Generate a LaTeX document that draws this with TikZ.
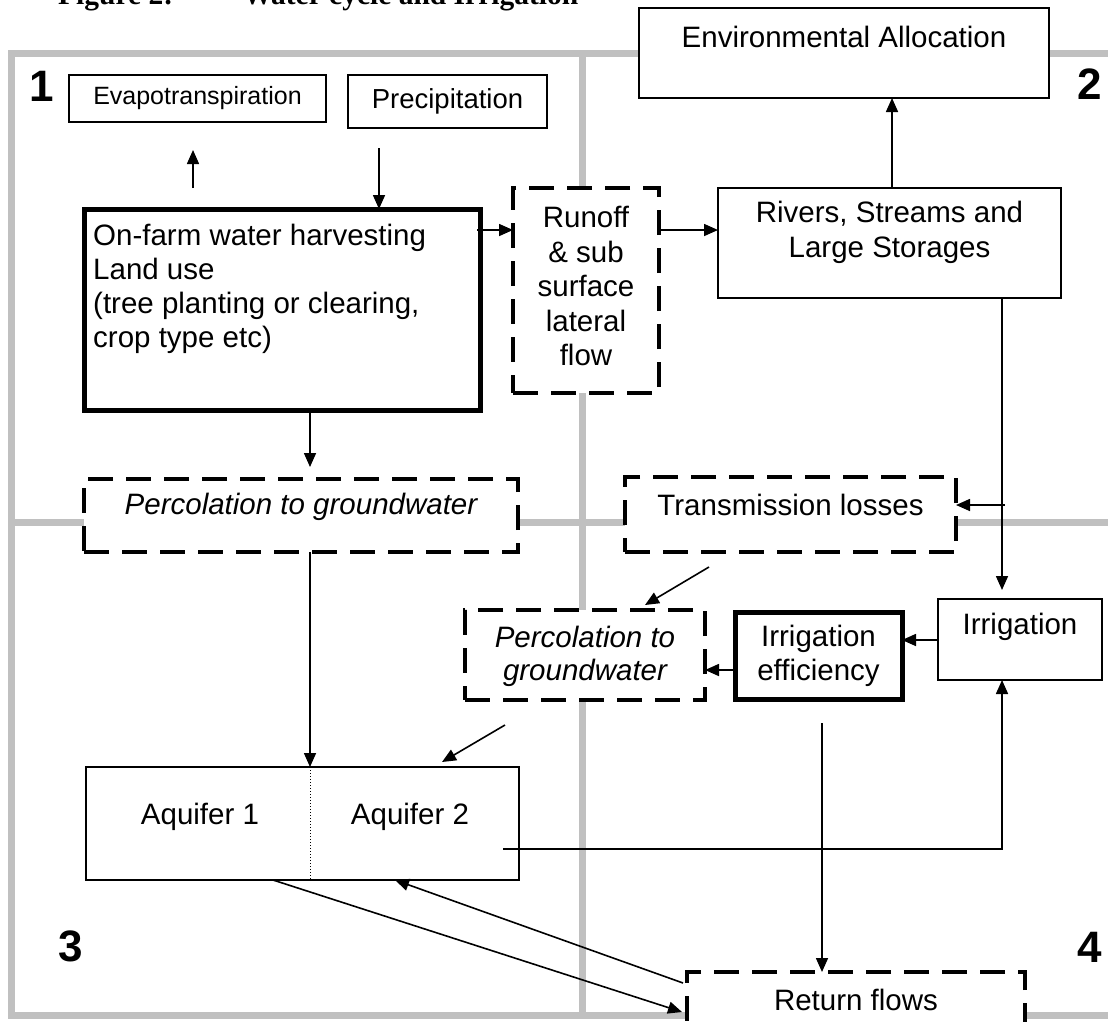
\documentclass[tikz,border=0pt]{standalone}
\usepackage{fontspec}
\setmainfont{Liberation Sans}
\newfontfamily\titlefont{Liberation Serif}
\usetikzlibrary{arrows.meta}
\definecolor{framegrey}{HTML}{C0C0C0}
\begin{document}
\begin{tikzpicture}[x=1pt,y=-1pt,
  box/.style={draw, fill=white, line width=1.8pt, inner sep=0pt, outer sep=0pt},
  thickbox/.style={draw, fill=white, line width=5pt, inner sep=0pt, outer sep=0pt},
  dbox/.style={draw, fill=white, line width=4.5pt, dash pattern=on 25pt off 13pt, inner sep=0pt, outer sep=0pt},
  txt/.style={font=\fontsize{29.5}{34.5}\selectfont, align=center, inner sep=0pt},
  itxt/.style={font=\fontsize{29.5}{33}\selectfont\itshape, align=center, inner sep=0pt},
  num/.style={font=\fontsize{44}{44}\selectfont\bfseries, inner sep=0pt},
  titletxt/.style={font=\titlefont\fontsize{29.5}{30}\bfseries\selectfont, anchor=base west, inner sep=0pt},
  framegrid/.style={draw=framegrey, line width=7pt, line join=miter},
  conn/.style={line width=1.6pt, -{Triangle[length=14pt,width=12pt]}},
]
\useasboundingbox (0,0) rectangle (1108,1021);

% title (cut at top)
\node[titletxt] (fig) at (58,4) {Figure 2:};
\node[titletxt] (figt) at (243,4) {Water cycle and Irrigation};

% grey quadrant frame
\draw[framegrid] (1115,53) -- (11,53) -- (11,1015) -- (1115,1015);
\draw[framegrid] (582,53) -- (582,1015);
\draw[framegrid] (11,522) -- (1115,522);

% quadrant numbers
\node[num] (n1) at (42,86) {1};
\node[num] (n2) at (1090,84) {2};
\node[num] (n3) at (71,946) {3};
\node[num] (n4) at (1090,947) {4};

% boxes
\node[box, minimum width=257pt, minimum height=47pt, font=\fontsize{25}{30}\selectfont] (evap) at (197.5,98.5) {Evapotranspiration};
\node[box, minimum width=199pt, minimum height=53pt, font=\fontsize{27.5}{30}\selectfont] (precip) at (447.5,101.5) {Precipitation};
\node[box, minimum width=410pt, minimum height=90pt] (env) at (844,53) {};
\node[txt] (envt) at (844,37) {Environmental Allocation};

\node[thickbox, minimum width=396pt, minimum height=201pt] (onfarm) at (282,309.5) {};
\node[txt, align=left, anchor=west, font=\fontsize{29.5}{34}\selectfont] (onfarmt) at (93,289) {On-farm water harvesting\\Land use\\(tree planting or clearing,\\crop type etc)};

\node[dbox, minimum width=146pt, minimum height=205pt] (runoff) at (586,290.5) {};
\node[txt] (runofft) at (586,286) {Runoff\\\& sub\\surface\\lateral\\flow};

\node[box, minimum width=343pt, minimum height=110pt] (rivers) at (889.5,243) {};
\node[txt] (riverst) at (889.5,232.5) {Rivers, Streams and\\Large Storages};

\node[dbox, minimum width=434pt, minimum height=73pt] (perc1) at (301,515.5) {};
\node[itxt] (perc1t) at (301,507) {Percolation to groundwater};

\node[dbox, minimum width=331pt, minimum height=75pt] (trans) at (790.5,514.5) {};
\node[txt] (transt) at (790.5,505) {Transmission losses};

\node[dbox, minimum width=240pt, minimum height=90pt] (perc2) at (585,655) {};
\node[itxt] (perc2t) at (585,656) {Percolation to\\groundwater};

\node[thickbox, minimum width=167pt, minimum height=87pt] (irreff) at (818.5,655.5) {};
\node[txt] (irrefft) at (818.5,656) {Irrigation\\efficiency};

\node[box, minimum width=164pt, minimum height=81pt] (irr) at (1020,639.5) {};
\node[txt] (irrt) at (1020,627) {Irrigation};

\node[box, minimum width=433pt, minimum height=113pt] (aq) at (302.5,823.5) {};
\node[txt] (aq1t) at (200,817) {Aquifer 1};
\node[txt] (aq2t) at (410,817) {Aquifer 2};

\node[dbox, minimum width=338pt, minimum height=98pt] (ret) at (856,1021) {};
\node[txt] (rett) at (856,1000) {Return flows};

% helper coordinates
\coordinate (xA) at (310,0);
\coordinate (rv) at (892,0);
\coordinate (rx) at (1002,0);
\coordinate (ev1) at (193,188);
\coordinate (ev2) at (193,150);
\coordinate (pr1) at (379,148);
\coordinate (of1) at (477,230);
\coordinate (irrtop) at (1002,590);
\coordinate (tm1) at (1005,505);
\coordinate (tp1) at (709,567);
\coordinate (tp2) at (645,605);
\coordinate (ie1) at (0,640);
\coordinate (ie2) at (0,670);
\coordinate (p1top) at (310,467);
\coordinate (pa1) at (505,725);
\coordinate (pa2) at (442,762);
\coordinate (aq2s) at (503,849);
\coordinate (rf1) at (822,723);
\coordinate (ab1) at (273,0);
\coordinate (ab2) at (395,0);
\coordinate (rt1) at (682,1012);
\coordinate (rt2) at (683,983);

% dotted divider in aquifer
\draw[line width=1pt, dotted] (aq.north -| xA) -- (aq.south -| xA);

% connectors
\draw[conn] (ev1) -- (ev2);
\draw[conn] (pr1) -- (pr1 |- onfarm.north);
\draw[conn] (of1) -- (of1 -| runoff.west);
\draw[conn] (runoff.east |- of1) -- (rivers.west |- of1);
\draw[conn] (rivers.north -| rv) -- (env.south -| rv);
\draw[conn] (rivers.south -| rx) -- (irrtop);
\draw[conn] (tm1) -- (tm1 -| trans.east);
\draw[conn] (tp1) -- (tp2);
\draw[conn] (irr.west |- ie1) -- (irreff.east |- ie1);
\draw[conn] (irreff.west |- ie2) -- (perc2.east |- ie2);
\draw[conn] (onfarm.south -| xA) -- (p1top);
\draw[conn] (perc1.south -| xA) -- (aq.north -| xA);
\draw[conn] (pa1) -- (pa2);
\draw[conn] (aq2s) -- (aq2s -| rx) -- (irr.south -| rx);
\draw[conn] (rf1) -- (rf1 |- ret.north);
\draw[conn] (aq.south -| ab1) -- (rt1);
\draw[conn] (rt2) -- (aq.south -| ab2);

\end{tikzpicture}
\end{document}
